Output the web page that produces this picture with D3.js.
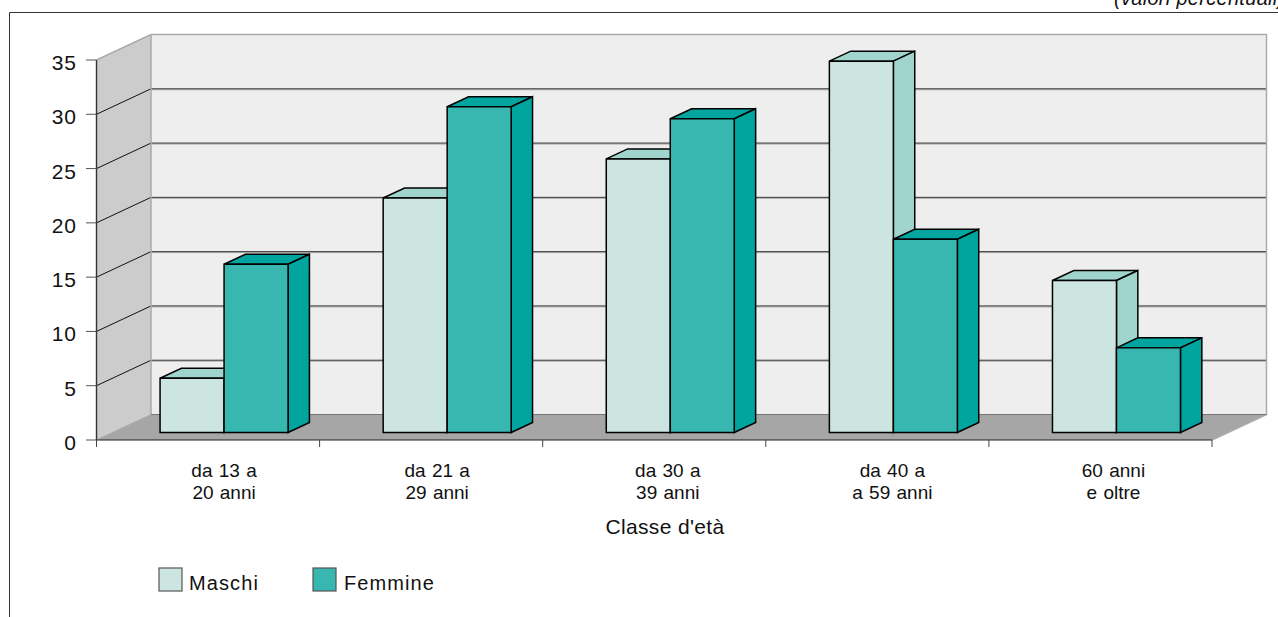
<!DOCTYPE html>
<html>
<head>
<meta charset="utf-8">
<script src="https://cdn.jsdelivr.net/npm/d3@7/dist/d3.min.js"></script>
<style>
html,body{margin:0;padding:0;background:#fff;overflow:hidden}
svg{display:block}
text{font-family:"Liberation Sans",Arial,sans-serif;fill:#111}
</style>
</head>
<body>
<svg id="chart" width="1278" height="617"></svg>
<script>
// Age classes and the percentage shares per gender
const categories = ["da 13 a|20 anni", "da 21 a|29 anni", "da 30 a|39 anni", "da 40 a|a 59 anni", "60 anni|e oltre"];
const maschi = [5.0, 21.6, 25.2, 34.2, 14.0];
const femmine = [15.5, 30.0, 28.9, 17.8, 7.8];
const yTicks = [0, 5, 10, 15, 20, 25, 30, 35];
const seriesNames = ["Maschi", "Femmine"];
const frontColors = ["#cce5e1", "#38b6b0"];
const sideColors = ["#9fd5cd", "#00a59f"];

// Horizontal nudge of each category label relative to its pair of bars
const labelNudge = [0, -10, -2.5, -1, -3];

const svg = d3.select("#chart");

// Front plane of the box, plus the shift applied to reach its back plane
const x = d3.scaleBand().domain(categories).range([96.5, 1212]).paddingInner(0).paddingOuter(0);
const y = d3.scaleLinear().domain([0, 35]).range([440, 60]);
const depth = {dx: 54.5, dy: -25.5};
const project = (px, py, z) => [px + depth.dx * z, py + depth.dy * z];
const poly = pts => pts.map(p => p.join(",")).join(" ");

// Side wall, back wall, floor
const x0 = x.range()[0], x1 = x.range()[1];
svg.append("polygon").attr("points", poly([[x0, y(35)], project(x0, y(35), 1), project(x0, y(0), 1), [x0, y(0)]])).attr("fill", "#cccccc");
svg.append("polygon").attr("points", poly([project(x0, y(0), 1), project(x1, y(0), 1), [x1, y(0)], [x0, y(0)]])).attr("fill", "#a6a6a6");
svg.append("rect")
  .attr("x", project(x0, 0, 1)[0]).attr("y", project(0, y(35), 1)[1])
  .attr("width", x1 - x0).attr("height", y(0) - y(35))
  .attr("fill", "#eeeeee");

// Grid lines run across the back wall and down the side wall
yTicks.slice(1, -1).forEach(t => {
  const a = project(x0, y(t), 1), b = project(x1, y(t), 1);
  svg.append("line").attr("x1", a[0]).attr("x2", b[0]).attr("y1", a[1] + 1).attr("y2", b[1] + 1).attr("stroke", "#aaaaaa").attr("stroke-width", 1);
  svg.append("line").attr("x1", a[0]).attr("x2", b[0]).attr("y1", a[1]).attr("y2", b[1]).attr("stroke", "#333").attr("stroke-width", 1);
  svg.append("line").attr("x1", x0).attr("y1", y(t)).attr("x2", a[0]).attr("y2", a[1]).attr("stroke", "#111").attr("stroke-width", 1);
});

// Gray outline of the walls
const bl = project(x0, y(0), 1), tl = project(x0, y(35), 1), tr = project(x1, y(35), 1), br = project(x1, y(0), 1);
svg.append("polyline").attr("points", poly([[x0, y(35)], tl, tr, br, [x1, y(0)]]))
  .attr("fill", "none").attr("stroke", "#aaaaaa").attr("stroke-width", 1.5);
svg.append("line").attr("x1", tl[0]).attr("y1", tl[1]).attr("x2", bl[0]).attr("y2", bl[1]).attr("stroke", "#aaaaaa").attr("stroke-width", 1.5);
svg.append("line").attr("x1", bl[0]).attr("y1", bl[1]).attr("x2", br[0]).attr("y2", br[1]).attr("stroke", "#777").attr("stroke-width", 1);
svg.append("line").attr("x1", bl[0]).attr("y1", bl[1]).attr("x2", x0).attr("y2", y(0)).attr("stroke", "#aaaaaa").attr("stroke-width", 1);

// Bars stand between two depths inside the box
const zFront = 0.294, zBack = 0.686;
const barW = 64;
function drawBar(g, left, value, i) {
  const right = left + barW;
  const top = y(value), base = y(0);
  const A = project(left, top, zFront), B = project(right, top, zFront);
  const C = project(right, base, zFront), D = project(left, base, zFront);
  const E = project(left, top, zBack), F = project(right, top, zBack), G = project(right, base, zBack);
  const edge = s => s.attr("stroke", "#000").attr("stroke-width", 1.5).attr("stroke-linejoin", "miter");
  g.append("polygon").attr("points", poly([A, B, F, E])).attr("fill", sideColors[i]).call(edge);
  g.append("polygon").attr("points", poly([B, C, G, F])).attr("fill", sideColors[i]).call(edge);
  g.append("polygon").attr("points", poly([A, B, C, D])).attr("fill", frontColors[i]).call(edge);
}
const bars = svg.append("g");
categories.forEach((c, k) => {
  const mid = x(c) + x.bandwidth() / 2;
  const g = bars.append("g");
  drawBar(g, mid - barW, maschi[k], 0);
  drawBar(g, mid, femmine[k], 1);
});

// Value axis
svg.append("line").attr("x1", x0).attr("x2", x0).attr("y1", y(35)).attr("y2", y(0)).attr("stroke", "#333").attr("stroke-width", 1.4);
yTicks.forEach(t => {
  svg.append("line").attr("x1", 86).attr("x2", x0).attr("y1", y(t)).attr("y2", y(t)).attr("stroke", "#555").attr("stroke-width", 1);
  svg.append("text").attr("x", 77).attr("y", y(t) + 10).attr("text-anchor", "end")
    .attr("font-size", 21).attr("letter-spacing", 1).text(t);
});

// Category axis
svg.append("line").attr("x1", x0).attr("x2", x1).attr("y1", y(0)).attr("y2", y(0)).attr("stroke", "#222").attr("stroke-width", 1);
[...categories.map(c => x(c)), x1].forEach(px => {
  svg.append("line").attr("x1", px).attr("x2", px).attr("y1", y(0)).attr("y2", 447).attr("stroke", "#444").attr("stroke-width", 1);
});
const barShift = depth.dx * zFront;
categories.forEach((c, k) => {
  const mid = x(c) + x.bandwidth() / 2 + barShift + labelNudge[k];
  c.split("|").forEach((line, i) => {
    svg.append("text").attr("x", mid).attr("y", 477 + i * 22).attr("text-anchor", "middle")
      .attr("font-size", 19).attr("word-spacing", 1).text(line);
  });
});
svg.append("text").attr("x", 665).attr("y", 534).attr("text-anchor", "middle")
  .attr("font-size", 21).attr("letter-spacing", 0.35).text("Classe d'età");

// Legend
const legendX = [159, 313], legendTextX = [189, 344];
seriesNames.forEach((name, i) => {
  svg.append("rect").attr("x", legendX[i]).attr("y", 568).attr("width", 23).attr("height", 23)
    .attr("fill", frontColors[i]).attr("stroke", "#555").attr("stroke-width", 1.2);
  svg.append("text").attr("x", legendTextX[i]).attr("y", 590).attr("font-size", 20).attr("letter-spacing", 1.1).text(name);
});

// Outer frame, open on the right and at the bottom
svg.append("polyline").attr("points", poly([[9.5, 617], [9.5, 12.5], [1278, 12.5]]))
  .attr("fill", "none").attr("stroke", "#333").attr("stroke-width", 1);
svg.append("text").attr("x", 1114).attr("y", 4.5).attr("font-size", 20).attr("font-style", "italic").attr("letter-spacing", 0.3).text("(valori percentuali)");
</script>
</body>
</html>
